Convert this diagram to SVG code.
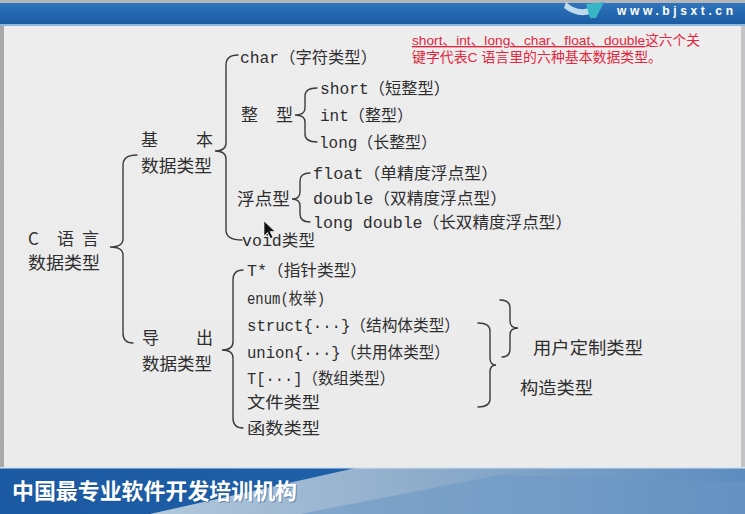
<svg xmlns="http://www.w3.org/2000/svg" width="745" height="514" viewBox="0 0 745 514">
  <style>
    .t { font-family: "Liberation Mono", "Noto Sans CJK SC", monospace; font-size: 16px; fill: #2e2e2e; }
    .c { font-family: "Noto Sans CJK SC", sans-serif; font-size: 17px; fill: #2e2e2e; }
    .c16 { font-family: "Noto Sans CJK SC", sans-serif; font-size: 16px; fill: #2e2e2e; }
    .br { fill: none; stroke: #3c3c3c; stroke-width: 1.4; stroke-linecap: round; }
    .red { font-family: "Liberation Sans", "Noto Sans CJK SC", sans-serif; font-size: 13.5px; fill: #e3263d; }
  </style>
  <defs>
    <linearGradient id="hdr" x1="0" y1="0" x2="0" y2="1">
      <stop offset="0" stop-color="#2f74bd"/>
      <stop offset="1" stop-color="#1b5ba2"/>
    </linearGradient>
    <linearGradient id="body" x1="0" y1="0" x2="0" y2="1">
      <stop offset="0" stop-color="#e4e4e6"/>
      <stop offset="0.05" stop-color="#ededee"/>
      <stop offset="1" stop-color="#ebebec"/>
    </linearGradient>
    <linearGradient id="ftr" x1="0" y1="0" x2="1" y2="0">
      <stop offset="0" stop-color="#1b5aa3"/>
      <stop offset="1" stop-color="#2465ad"/>
    </linearGradient>
    <linearGradient id="ftrLight" x1="0" y1="0" x2="1" y2="0">
      <stop offset="0" stop-color="#b3c8dc"/>
      <stop offset="0.45" stop-color="#8fadcb"/>
      <stop offset="1" stop-color="#5d8cbf"/>
    </linearGradient>
  </defs>

  <!-- page background and frame -->
  <rect x="0" y="0" width="745" height="514" fill="url(#body)"/>
  <rect x="0" y="24" width="4" height="444" fill="#a9a9ab"/>
  <rect x="741" y="24" width="4" height="444" fill="#c4c4c6"/>

  <!-- header band -->
  <g id="header">
    <rect x="0" y="0" width="745" height="3" fill="#b4b6b9"/>
    <rect x="0" y="3" width="745" height="21" fill="url(#hdr)"/>
    <rect x="0" y="24" width="745" height="2" fill="#8db8de"/>
    <path d="M566,2 Q578,14 596,6 L600,9 Q582,22 564,8 Z" fill="#d9eef7" opacity="0.85"/>
    <path d="M586,4 L604,2 L596,18 L590,18 Z" fill="#39b5c8"/>
    <text x="617" y="15" font-family="Liberation Sans, sans-serif" font-weight="bold" font-size="12" fill="#ffffff" textLength="116" lengthAdjust="spacing">www.bjsxt.cn</text>
  </g>

  <!-- footer band -->
  <g id="footer">
    <rect x="0" y="467" width="745" height="47" fill="url(#ftr)"/>
    <polygon points="150,514 360,467 745,467 745,514" fill="url(#ftrLight)"/>
    <polygon points="300,514 500,475 745,482 745,514" fill="#6c97c4" opacity="0.55"/>
    <rect x="0" y="467" width="745" height="1.5" fill="#d6e4f1"/>
    <text x="12" y="499" font-family="Noto Sans CJK SC, sans-serif" font-weight="bold" font-size="22" fill="#1a4f8c" opacity="0.5" textLength="285" lengthAdjust="spacingAndGlyphs" transform="translate(1,1)">中国最专业软件开发培训机构</text>
    <text x="12" y="499" font-family="Noto Sans CJK SC, sans-serif" font-weight="bold" font-size="22" fill="#ffffff" textLength="285" lengthAdjust="spacingAndGlyphs">中国最专业软件开发培训机构</text>
  </g>

  <!-- note in red -->
  <g id="note">
    <text class="red" x="412" y="45" textLength="288" lengthAdjust="spacingAndGlyphs"><tspan text-decoration="underline">short、int、long、char、float、double</tspan>这六个关</text>
    <text class="red" x="412" y="62" textLength="250" lengthAdjust="spacingAndGlyphs">键字代表C 语言里的六种基本数据类型。</text>
  </g>

  <!-- braces -->
  <g id="connectors">
    <path class="br" d="M137,155 Q123,155 123,165 L123,239 Q123,247 110,247 Q123,247 123,255 L123,333 Q123,343 133,343"/>
    <path class="br" d="M238,55 Q226,55 226,65 L226,143 Q226,151 215,151 Q226,151 226,159 L226,230 Q226,240 242,240"/>
    <path class="br" d="M317,88 Q305,88 305,96 L305,108 Q305,115 295,115 Q305,115 305,122 L305,134 Q305,142 317,142"/>
    <path class="br" d="M310,173 Q300,173 300,181 L300,192 Q300,199 292,199 Q300,199 300,206 L300,214 Q300,222 310,222"/>
    <path class="br" d="M243,270 Q233,270 233,280 L233,342 Q233,350 222,350 Q233,350 233,358 L233,418 Q233,428 243,428"/>
    <path class="br" d="M500,300 Q510,300 510,308 L510,321 Q510,328 518,328 Q510,328 510,335 L510,349 Q510,357 502,357"/>
    <path class="br" d="M478,323 Q490,323 490,331 L490,358 Q490,365 496,365 Q490,365 490,372 L490,399 Q490,407 478,407"/>
  </g>

  <!-- root -->
  <g id="c-types">
    <text class="c" y="245"><tspan x="28">C</tspan><tspan x="57">语</tspan><tspan x="82">言</tspan></text>
    <text class="c" x="28" y="269" textLength="72" lengthAdjust="spacingAndGlyphs">数据类型</text>
  </g>

  <!-- basic types -->
  <g id="basic">
    <text class="c" y="146"><tspan x="141">基</tspan><tspan x="196">本</tspan></text>
    <text class="c" x="141" y="172" textLength="71" lengthAdjust="spacingAndGlyphs">数据类型</text>
  </g>
  <g id="char"><text class="t" x="240" y="63" textLength="137" lengthAdjust="spacingAndGlyphs">char（字符类型）</text></g>
  <g id="integer">
    <text class="c" y="121"><tspan x="241">整</tspan><tspan x="276">型</tspan></text>
  </g>
  <g id="short"><text class="t" x="320" y="94" textLength="130" lengthAdjust="spacingAndGlyphs">short（短整型）</text></g>
  <g id="int"><text class="t" x="320" y="121" textLength="93" lengthAdjust="spacingAndGlyphs">int（整型）</text></g>
  <g id="long"><text class="t" x="319" y="148" textLength="118" lengthAdjust="spacingAndGlyphs">long（长整型）</text></g>
  <g id="floating">
    <text class="c" x="237" y="205" textLength="53" lengthAdjust="spacingAndGlyphs">浮点型</text>
  </g>
  <g id="float"><text class="t" x="313" y="179" textLength="185" lengthAdjust="spacingAndGlyphs">float（单精度浮点型）</text></g>
  <g id="double"><text class="t" x="313" y="204" textLength="194" lengthAdjust="spacingAndGlyphs">double（双精度浮点型）</text></g>
  <g id="long-double"><text class="t" x="313" y="228" textLength="259" lengthAdjust="spacingAndGlyphs">long double（长双精度浮点型）</text></g>
  <g id="void"><text class="t" x="242" y="246" textLength="73" lengthAdjust="spacingAndGlyphs">void类型</text></g>

  <!-- derived types -->
  <g id="derived">
    <text class="c" y="344"><tspan x="142">导</tspan><tspan x="196">出</tspan></text>
    <text class="c" x="142" y="370" textLength="70" lengthAdjust="spacingAndGlyphs">数据类型</text>
  </g>
  <g id="pointer"><text class="t" x="247" y="276" textLength="120" lengthAdjust="spacingAndGlyphs">T*（指针类型）</text></g>
  <g id="enum"><text class="t" x="247" y="304" textLength="78" lengthAdjust="spacingAndGlyphs">enum(枚举)</text></g>
  <g id="struct"><text class="t" x="247" y="331" textLength="213" lengthAdjust="spacingAndGlyphs">struct{···}（结构体类型）</text></g>
  <g id="union"><text class="t" x="247" y="358" textLength="203" lengthAdjust="spacingAndGlyphs">union{···}（共用体类型）</text></g>
  <g id="array"><text class="t" x="247" y="384" textLength="148" lengthAdjust="spacingAndGlyphs">T[···]（数组类型）</text></g>
  <g id="file"><text class="c16" x="247" y="408" textLength="73" lengthAdjust="spacingAndGlyphs">文件类型</text></g>
  <g id="function"><text class="c16" x="247" y="434" textLength="73" lengthAdjust="spacingAndGlyphs">函数类型</text></g>
  <g id="user-defined"><text class="c" x="533" y="354" textLength="110" lengthAdjust="spacingAndGlyphs">用户定制类型</text></g>
  <g id="constructed"><text class="c" x="520" y="394" textLength="73" lengthAdjust="spacingAndGlyphs">构造类型</text></g>

  <!-- mouse pointer -->
  <polygon points="264,221 264,236 267.5,232.5 270.5,238.5 273,237.5 270,231.5 275,231.5" fill="#111111" stroke="#ffffff" stroke-width="0.6"/>
</svg>
